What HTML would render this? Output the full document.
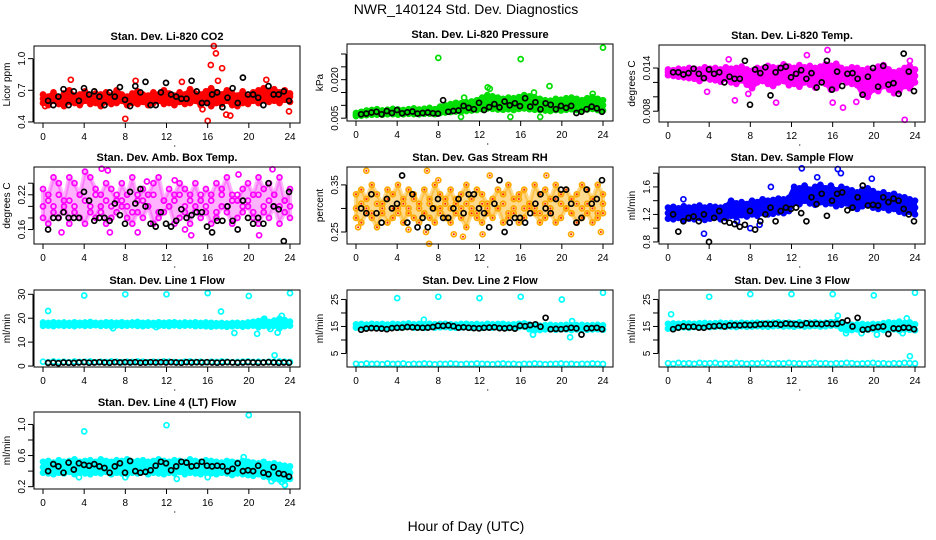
<!DOCTYPE html>
<html><head><meta charset="utf-8">
<style>
html,body{margin:0;padding:0;background:#fff;}
svg{display:block;font-family:"Liberation Sans",Arial,sans-serif;}
</style></head>
<body>
<svg id="chart" width="936" height="540" viewBox="0 0 936 540">
<text x="466" y="14" font-size="14" text-anchor="middle">NWR_140124  Std. Dev. Diagnostics</text>
<text x="466" y="531" font-size="14" text-anchor="middle">Hour of Day (UTC)</text>
</svg>
<script>
const xTicks = [0,4,8,12,16,20,24];

// CO2
const co2Hi = [0.66,0.64,0.68,0.63,0.67,0.70,0.65,0.66,0.69,0.64,0.67,0.66,0.68,0.65,0.70,0.66,0.64,0.67,0.69,0.66,0.65,0.68,0.66,0.70,0.67,0.65,0.68,0.66,0.71,0.67,0.66,0.69,0.72,0.68,0.66,0.70,0.67,0.65,0.69,0.64,0.68,0.70,0.72,0.69,0.71,0.68,0.70,0.67];
const co2Lo = [0.58,0.56,0.60,0.57,0.55,0.59,0.58,0.56,0.60,0.57,0.58,0.55,0.59,0.57,0.58,0.60,0.56,0.58,0.57,0.59,0.56,0.58,0.60,0.57,0.58,0.56,0.59,0.57,0.58,0.60,0.56,0.59,0.55,0.58,0.57,0.60,0.56,0.55,0.58,0.57,0.60,0.58,0.61,0.59,0.60,0.58,0.61,0.59];
const co2Mid = [0.62,0.61,0.63,0.62,0.60,0.64,0.61,0.63,0.62,0.60,0.63,0.61,0.64,0.62,0.61,0.63,0.60,0.62,0.64,0.61,0.62,0.63,0.61,0.64,0.62,0.60,0.63,0.62,0.65,0.61,0.63,0.62,0.64,0.63,0.61,0.65,0.62,0.60,0.63,0.61,0.64,0.65,0.66,0.64,0.65,0.63,0.66,0.64];
const co2OutT = [0.2,2.7,8,9,16,16.3,16.6,16.8,17.4,17,18.2,17.8,21.7,23.9,13.5,15.5];
const co2OutV = [0.55,0.80,0.43,0.79,0.41,0.94,1.12,1.05,0.91,0.79,0.46,0.47,0.80,0.50,0.78,0.52];
const co2Black = [0.60,0.56,0.64,0.71,0.56,0.69,0.60,0.72,0.66,0.69,0.64,0.56,0.68,0.64,0.73,0.61,0.55,0.74,0.68,0.78,0.56,0.56,0.68,0.77,0.66,0.64,0.62,0.62,0.79,0.69,0.58,0.58,0.66,0.68,0.54,0.63,0.72,0.58,0.82,0.66,0.66,0.63,0.56,0.74,0.66,0.66,0.69,0.60];

// Pressure
const presHi = [0.0070,0.0075,0.0080,0.0082,0.0085,0.0080,0.0083,0.0086,0.0084,0.0082,0.0085,0.0088,0.0084,0.0087,0.0090,0.0085,0.0095,0.0100,0.0105,0.0110,0.0108,0.0112,0.0115,0.0120,0.0130,0.0140,0.0135,0.0130,0.0125,0.0130,0.0128,0.0132,0.0140,0.0135,0.0130,0.0125,0.0120,0.0118,0.0125,0.0122,0.0128,0.0130,0.0125,0.0120,0.0128,0.0132,0.0125,0.0120];
const presLo = [0.0058,0.0060,0.0062,0.0063,0.0064,0.0063,0.0065,0.0066,0.0064,0.0065,0.0067,0.0066,0.0065,0.0067,0.0068,0.0066,0.0070,0.0072,0.0074,0.0076,0.0075,0.0078,0.0080,0.0082,0.0085,0.0088,0.0086,0.0084,0.0083,0.0085,0.0082,0.0086,0.0088,0.0085,0.0083,0.0082,0.0080,0.0078,0.0082,0.0080,0.0083,0.0085,0.0082,0.0080,0.0084,0.0086,0.0082,0.0080];
const presMid = [0.0064,0.0068,0.0070,0.0072,0.0074,0.0071,0.0073,0.0076,0.0074,0.0073,0.0076,0.0077,0.0074,0.0077,0.0079,0.0075,0.0082,0.0086,0.0090,0.0093,0.0091,0.0095,0.0098,0.0101,0.0108,0.0114,0.0110,0.0107,0.0104,0.0108,0.0105,0.0109,0.0114,0.0110,0.0106,0.0104,0.0100,0.0098,0.0104,0.0101,0.0106,0.0108,0.0104,0.0100,0.0106,0.0109,0.0104,0.0100];
const presOutT = [8,16,24,18.8,12.8,13,10.5,17.3,23,15,10.2,17.9];
const presOutV = [0.0285,0.0280,0.0325,0.0175,0.0170,0.0165,0.0130,0.0150,0.0145,0.0055,0.0055,0.0055];
const presBlack = [0.0065,0.0068,0.0072,0.0075,0.0065,0.0078,0.0070,0.0082,0.0069,0.0073,0.0076,0.0068,0.0070,0.0072,0.0069,0.0068,0.0120,0.0075,0.0078,0.0080,0.0098,0.0090,0.0085,0.0110,0.0082,0.0093,0.0105,0.0092,0.0115,0.0100,0.0108,0.0097,0.0128,0.0095,0.0112,0.0085,0.0108,0.0102,0.0085,0.0098,0.0090,0.0098,0.0070,0.0075,0.0085,0.0095,0.0088,0.0075];

// Li-820 temp
const tempHi = [0.0138,0.0137,0.0139,0.0138,0.0140,0.0139,0.0138,0.0141,0.0139,0.0140,0.0138,0.0141,0.0139,0.0140,0.0142,0.0138,0.0136,0.0140,0.0139,0.0143,0.0141,0.0140,0.0145,0.0142,0.0140,0.0144,0.0141,0.0143,0.0140,0.0142,0.0145,0.0143,0.0146,0.0140,0.0138,0.0141,0.0140,0.0137,0.0139,0.0136,0.0142,0.0144,0.0138,0.0134,0.0136,0.0140,0.0143,0.0138];
const tempLo = [0.0130,0.0129,0.0128,0.0127,0.0126,0.0125,0.0122,0.0126,0.0124,0.0123,0.0121,0.0125,0.0120,0.0118,0.0123,0.0117,0.0112,0.0120,0.0122,0.0118,0.0115,0.0120,0.0122,0.0116,0.0118,0.0114,0.0120,0.0117,0.0113,0.0122,0.0118,0.0110,0.0112,0.0125,0.0120,0.0118,0.0116,0.0103,0.0100,0.0110,0.0108,0.0115,0.0112,0.0105,0.0108,0.0115,0.0112,0.0120];
const tempMid = [0.0134,0.0133,0.0134,0.0132,0.0133,0.0132,0.0130,0.0134,0.0131,0.0132,0.0129,0.0133,0.0130,0.0128,0.0133,0.0127,0.0124,0.0130,0.0131,0.0130,0.0127,0.0130,0.0134,0.0129,0.0129,0.0128,0.0131,0.0130,0.0126,0.0132,0.0131,0.0126,0.0129,0.0133,0.0129,0.0130,0.0128,0.0120,0.0118,0.0123,0.0126,0.0130,0.0125,0.0120,0.0122,0.0128,0.0128,0.0129];
const tempOutT = [3.8,6.5,10.5,15.5,16,17,23,13.5,7.8,5.9,21.5,18.3,23.5];
const tempOutV = [0.0107,0.0095,0.0092,0.0165,0.0092,0.0085,0.0068,0.0158,0.0104,0.0152,0.0110,0.0093,0.0150];
const tempBlack = [0.0134,0.0134,0.0131,0.0133,0.0139,0.0132,0.0126,0.0138,0.0132,0.0134,0.0120,0.0128,0.0125,0.0125,0.0150,0.0089,0.0138,0.0133,0.0141,0.0102,0.0134,0.0140,0.0142,0.0127,0.0132,0.0137,0.0125,0.0133,0.0113,0.0120,0.0150,0.0110,0.0135,0.0115,0.0132,0.0133,0.0125,0.0103,0.0128,0.0140,0.0114,0.0143,0.0117,0.0119,0.0104,0.0160,0.0135,0.0108];

// Amb box temp
const ambHi = [0.23,0.22,0.25,0.24,0.21,0.25,0.24,0.22,0.26,0.25,0.23,0.22,0.24,0.23,0.21,0.24,0.22,0.25,0.21,0.23,0.22,0.24,0.25,0.21,0.23,0.22,0.24,0.23,0.22,0.24,0.21,0.23,0.22,0.24,0.23,0.25,0.22,0.21,0.23,0.24,0.22,0.25,0.23,0.24,0.22,0.25,0.21,0.23];
const ambLo = [0.18,0.17,0.19,0.18,0.20,0.17,0.19,0.18,0.17,0.19,0.18,0.20,0.17,0.18,0.19,0.20,0.18,0.17,0.19,0.18,0.20,0.17,0.18,0.19,0.20,0.17,0.18,0.19,0.17,0.20,0.18,0.19,0.17,0.18,0.20,0.19,0.17,0.18,0.19,0.20,0.18,0.17,0.19,0.18,0.20,0.17,0.19,0.18];
const ambMid = [0.20,0.21,0.20,0.22,0.19,0.21,0.20,0.22,0.21,0.20,0.22,0.19,0.21,0.20,0.22,0.21,0.20,0.19,0.22,0.21,0.20,0.22,0.19,0.21,0.20,0.21,0.22,0.20,0.21,0.19,0.22,0.20,0.21,0.19,0.22,0.20,0.21,0.22,0.20,0.21,0.19,0.22,0.20,0.21,0.22,0.20,0.21,0.20];
const ambOutT = [5.7,6.3,1.8,6.5,9.2,13.8,14.4,21,22.3,19,10.1,12.8];
const ambOutV = [0.265,0.262,0.155,0.155,0.155,0.160,0.150,0.150,0.264,0.255,0.243,0.245];
const ambBlack = [0.16,0.18,0.18,0.19,0.18,0.18,0.18,0.225,0.21,0.175,0.18,0.18,0.175,0.205,0.185,0.17,0.225,0.205,0.23,0.20,0.17,0.165,0.19,0.17,0.165,0.175,0.195,0.18,0.185,0.19,0.19,0.165,0.155,0.175,0.175,0.20,0.175,0.16,0.21,0.18,0.17,0.18,0.17,0.24,0.20,0.195,0.14,0.225];

// Gas stream RH
const rhHi = [0.33,0.34,0.32,0.35,0.33,0.31,0.34,0.33,0.35,0.32,0.34,0.33,0.31,0.34,0.32,0.35,0.33,0.32,0.34,0.31,0.33,0.35,0.32,0.34,0.33,0.31,0.32,0.34,0.33,0.35,0.32,0.33,0.34,0.31,0.35,0.33,0.34,0.32,0.35,0.33,0.34,0.32,0.33,0.35,0.34,0.32,0.35,0.33];
const rhLo = [0.28,0.27,0.29,0.28,0.26,0.29,0.27,0.28,0.30,0.27,0.29,0.28,0.27,0.29,0.28,0.27,0.30,0.28,0.27,0.29,0.28,0.26,0.29,0.28,0.27,0.29,0.28,0.30,0.27,0.28,0.29,0.27,0.28,0.30,0.29,0.27,0.28,0.29,0.27,0.28,0.30,0.29,0.27,0.28,0.29,0.27,0.28,0.29];
const rhMid = [0.30,0.31,0.30,0.29,0.31,0.30,0.32,0.30,0.29,0.31,0.30,0.32,0.30,0.29,0.31,0.30,0.29,0.31,0.30,0.32,0.30,0.31,0.30,0.29,0.31,0.30,0.32,0.30,0.31,0.29,0.30,0.32,0.30,0.31,0.30,0.29,0.31,0.30,0.32,0.31,0.30,0.29,0.31,0.30,0.31,0.30,0.29,0.31];
const rhOutT = [1,6.9,8,5.1,6.8,9.5,10.4,13,18.5,20.9,23.8,0.2,7.1,12.3];
const rhOutV = [0.38,0.38,0.36,0.255,0.25,0.245,0.24,0.37,0.37,0.245,0.25,0.26,0.225,0.245];
const rhBlack = [0.30,0.29,0.33,0.29,0.27,0.32,0.30,0.31,0.37,0.27,0.33,0.26,0.28,0.26,0.30,0.32,0.28,0.28,0.30,0.32,0.29,0.33,0.33,0.30,0.29,0.26,0.31,0.36,0.25,0.27,0.28,0.28,0.27,0.29,0.31,0.33,0.30,0.29,0.32,0.34,0.34,0.31,0.27,0.28,0.34,0.31,0.32,0.36];

// Sample flow
const flowHi = [1.30,1.31,1.29,1.32,1.30,1.31,1.33,1.30,1.32,1.31,1.30,1.32,1.40,1.36,1.38,1.35,1.40,1.38,1.42,1.40,1.41,1.43,1.42,1.44,1.60,1.58,1.62,1.56,1.60,1.63,1.58,1.62,1.55,1.60,1.57,1.55,1.52,1.56,1.58,1.54,1.50,1.52,1.48,1.50,1.46,1.45,1.42,1.40];
const flowLo = [1.14,1.13,1.15,1.12,1.14,1.13,1.15,1.12,1.14,1.16,1.13,1.15,1.18,1.16,1.19,1.17,1.20,1.18,1.22,1.20,1.21,1.23,1.22,1.25,1.38,1.35,1.40,1.36,1.34,1.38,1.35,1.36,1.32,1.34,1.36,1.30,1.28,1.32,1.34,1.30,1.28,1.30,1.26,1.28,1.24,1.22,1.24,1.20];
const flowMid = [1.22,1.23,1.21,1.24,1.22,1.20,1.23,1.22,1.21,1.24,1.22,1.23,1.30,1.27,1.29,1.26,1.30,1.29,1.32,1.31,1.30,1.33,1.32,1.35,1.48,1.46,1.50,1.45,1.47,1.50,1.46,1.48,1.43,1.47,1.45,1.42,1.40,1.44,1.46,1.42,1.40,1.42,1.37,1.39,1.35,1.33,1.33,1.30];
const flowOutT = [1.5,3.5,6.7,8,7.2,13,16.5,16.8,19.8,8.9,10,14.5];
const flowOutV = [1.42,0.92,1.10,1.00,1.28,1.87,1.86,1.80,1.72,1.05,1.60,1.74];
const flowBlack = [1.20,0.95,1.10,1.15,1.17,1.10,1.20,0.80,1.15,1.25,1.10,1.08,1.06,1.02,1.05,1.25,0.98,1.10,1.20,1.30,1.10,1.25,1.30,1.28,1.30,1.22,1.10,1.45,1.35,1.50,1.18,1.40,1.50,1.52,1.26,1.30,1.45,1.62,1.33,1.34,1.33,1.45,1.38,1.43,1.40,1.28,1.20,1.10];

// Line 1
const l1Hi = [18.2,18.0,18.3,18.1,18.2,18.0,18.3,18.1,18.2,18.4,18.1,18.0,18.3,18.2,18.1,18.3,18.0,18.2,18.4,18.1,18.2,18.0,18.3,18.1,18.2,18.3,18.0,18.2,18.1,18.3,18.0,18.2,18.1,17.9,18.0,17.8,18.0,18.1,17.9,18.2,18.5,18.8,19.5,18.4,19.0,19.8,19.2,18.6];
const l1Lo = [16.8,16.9,16.7,17.0,16.8,16.9,16.7,17.0,16.8,16.9,17.1,16.8,16.9,16.7,17.0,16.8,16.9,17.0,16.8,16.7,16.9,17.0,16.8,16.9,16.7,17.0,16.8,16.9,17.0,16.7,16.8,16.6,16.5,16.7,16.6,16.4,16.6,16.8,16.5,16.7,16.9,16.2,16.8,16.5,16.9,15.8,16.7,16.9];
const l1Base = [1.8,1.6,1.9,1.7,1.8,1.6,1.9,1.7,1.8,1.9,1.6,1.8,1.7,1.9,1.8,1.6,1.8,1.7,1.9,1.8,1.6,1.8,1.7,1.9,1.8,1.7,1.6,1.8,1.9,1.7,1.8,1.6,1.8,1.7,1.9,1.8,1.6,1.7,1.8,1.9,1.7,1.8,1.6,1.8,1.7,1.9,1.8,1.7];
const l1OutT = [0.5,4,8,12,16,17.3,20,24,18.6,20.8,22.8,23.2,22.5,6.8,21.5,11,22.1];
const l1OutV = [23,29.5,30,30,30.5,22.8,29.3,30.5,13.8,13.5,14,21,4.5,15.8,19.8,16.3,15.5];
const l1Black = [1.3,1.4,1.2,1.5,1.4,1.3,1.5,1.6,1.4,1.5,1.6,1.5,1.4,1.6,1.5,1.6,1.5,1.6,1.4,1.5,1.6,1.5,1.6,1.5,1.6,1.5,1.4,1.6,1.5,1.6,1.5,1.6,1.5,1.4,1.5,1.6,1.5,1.4,1.5,1.6,1.5,1.4,1.5,1.6,1.5,1.4,1.5,1.4];

// Line 2
const l2Hi = [15.8,15.9,15.7,16.0,15.8,15.9,15.7,16.0,15.8,15.9,16.1,15.8,15.9,15.7,16.0,15.8,15.9,16.0,15.8,15.7,15.9,16.0,15.8,15.9,15.7,16.0,15.8,15.9,16.0,15.7,15.8,16.0,16.1,15.7,15.4,15.3,15.5,15.6,15.4,15.5,15.6,15.4,15.5,15.6,15.4,15.5,15.6,15.4];
const l2Lo = [14.6,14.7,14.5,14.8,14.6,14.7,14.5,14.8,14.6,14.7,14.9,14.6,14.7,14.5,14.8,14.6,14.7,14.8,14.6,14.5,14.7,14.8,14.6,14.7,14.5,14.8,14.6,14.7,14.8,14.5,14.6,14.8,14.9,14.0,13.6,13.7,13.9,14.0,13.8,14.0,13.9,13.7,13.9,14.0,13.8,13.9,14.0,13.8];
const l2Base = [1.2,1.0,1.3,1.1,1.2,1.0,1.3,1.1,1.2,1.3,1.0,1.2,1.1,1.3,1.2,1.0,1.2,1.1,1.3,1.2,1.0,1.2,1.1,1.3,1.2,1.1,1.0,1.2,1.3,1.1,1.2,1.0,1.2,1.1,1.3,1.2,1.0,1.1,1.2,1.3,1.1,1.2,1.0,1.2,1.1,1.3,1.2,1.1];
const l2OutT = [4,8,12,16,20,24,6.6,17.2,20.8,21,16.4];
const l2OutV = [25.5,26,25.5,26,25,27.5,17.5,12,11,17,16];
const l2Black = [13.8,14.2,14.4,14.3,14.2,14.0,14.4,14.5,14.6,14.8,14.7,14.6,14.5,14.6,14.8,15.3,15.2,15.4,15.1,14.6,14.7,14.5,14.4,14.3,14.5,14.6,14.7,14.4,14.3,14.5,14.2,15.3,15.1,15.5,15.8,14.9,18.2,14.0,14.1,14.0,14.2,14.5,14.3,12.0,14.3,14.4,14.5,14.0];

// Line 3
const l3Hi = [16.0,16.1,16.0,16.2,16.1,16.0,16.2,16.3,16.1,16.2,16.4,16.2,16.3,16.1,16.4,16.2,16.3,16.4,16.2,16.3,16.4,16.5,16.3,16.4,16.2,16.5,16.3,16.4,16.5,16.3,16.4,16.6,16.8,16.0,15.5,15.6,15.8,15.9,15.7,15.9,15.8,16.2,16.5,16.3,16.8,16.2,16.5,15.8];
const l3Lo = [14.2,14.6,14.5,14.7,14.6,14.8,14.7,14.9,14.8,14.9,15.0,14.9,15.0,14.8,15.1,14.9,15.0,15.1,15.0,14.9,15.1,15.2,15.0,15.1,14.9,15.2,15.0,15.1,15.2,15.0,15.1,15.3,15.4,14.2,13.6,13.7,13.9,14.0,13.8,14.0,13.9,13.7,13.9,14.0,13.6,13.9,13.8,13.6];
const l3Base = [1.4,1.2,1.5,1.3,1.4,1.2,1.5,1.3,1.4,1.5,1.2,1.4,1.3,1.5,1.4,1.2,1.4,1.3,1.5,1.4,1.2,1.4,1.3,1.5,1.4,1.3,1.2,1.4,1.5,1.3,1.4,1.2,1.4,1.3,1.5,1.4,1.2,1.3,1.4,1.5,1.3,1.4,1.2,1.4,1.3,1.5,1.4,1.3];
const l3OutT = [4,8,12,16,20,24,23.5,17.3,16.5,20.3,0.3,22.8,18.8,22.5,23.2];
const l3OutV = [26,27,27,27,26.5,27.5,4,12.5,19,12,19.5,12.5,12.5,13.5,18];
const l3Black = [14.0,14.6,15.0,14.8,14.9,14.6,14.5,15.0,15.1,15.3,15.0,15.4,15.5,15.4,15.6,15.5,15.6,15.8,15.9,15.8,16.0,15.7,16.1,15.9,15.8,15.6,16.2,15.9,16.0,15.8,16.1,15.9,16.0,16.5,17.2,15.0,18.2,13.8,14.0,14.5,14.8,15.0,12.2,14.3,14.2,14.6,14.5,14.0];

// Line 4
const l4Hi = [0.52,0.53,0.51,0.54,0.52,0.53,0.55,0.52,0.53,0.54,0.52,0.55,0.53,0.52,0.54,0.53,0.55,0.52,0.53,0.54,0.52,0.53,0.55,0.53,0.52,0.54,0.53,0.52,0.55,0.53,0.52,0.54,0.53,0.52,0.51,0.53,0.52,0.51,0.53,0.52,0.51,0.50,0.52,0.49,0.50,0.48,0.47,0.46];
const l4Lo = [0.38,0.37,0.36,0.38,0.37,0.39,0.36,0.38,0.37,0.36,0.38,0.37,0.39,0.36,0.38,0.37,0.36,0.38,0.37,0.39,0.36,0.38,0.37,0.36,0.38,0.37,0.39,0.36,0.38,0.37,0.36,0.38,0.37,0.36,0.38,0.37,0.35,0.37,0.36,0.35,0.34,0.36,0.33,0.32,0.30,0.29,0.28,0.30];
const l4Mid = [0.45,0.46,0.44,0.45,0.47,0.45,0.46,0.44,0.45,0.47,0.45,0.46,0.44,0.45,0.47,0.46,0.45,0.44,0.46,0.45,0.47,0.45,0.44,0.46,0.45,0.47,0.45,0.44,0.46,0.45,0.44,0.46,0.45,0.44,0.45,0.44,0.43,0.44,0.45,0.43,0.42,0.43,0.41,0.40,0.39,0.38,0.37,0.38];
const l4OutT = [4,12,20,19.5,23.5,23.2,22.2,13,3.5,8,16];
const l4OutV = [0.91,0.99,1.12,0.58,0.22,0.26,0.27,0.30,0.32,0.32,0.32];
const l4Black = [0.40,0.49,0.46,0.38,0.51,0.42,0.50,0.48,0.47,0.49,0.46,0.44,0.38,0.46,0.50,0.38,0.53,0.40,0.38,0.39,0.41,0.47,0.52,0.50,0.41,0.46,0.52,0.51,0.46,0.47,0.52,0.47,0.46,0.47,0.46,0.40,0.43,0.50,0.40,0.41,0.40,0.47,0.38,0.36,0.45,0.37,0.36,0.33];

const panels = [
 {name:'co2', title:'Stan. Dev. Li-820 CO2', ylab:'Licor ppm', x:34, y:46, ylim:[0.39,1.12], ticks:[0.4,0.7,1.0], labels:['0.4','0.7','1.0'], color:'#ff0000', bands:[co2Lo,co2Mid,co2Hi], fills:[[co2Lo,co2Hi]], fo:1, outT:co2OutT, outV:co2OutV, black:co2Black},
 {name:'pressure', title:'Stan. Dev. Li-820 Pressure', ylab:'kPa', x:347, y:44, ylim:[0.0039,0.0339], ticks:[0.005,0.010,0.015,0.020,0.025,0.030], labels:['0.005','','','0.020','',''], color:'#00dd00', bands:[presLo,presMid,presHi], fills:[[presLo,presHi]], fo:1, outT:presOutT, outV:presOutV, black:presBlack},
 {name:'li820-temp', title:'Stan. Dev. Li-820 Temp.', ylab:'degrees C', x:659, y:45, ylim:[0.0065,0.0172], ticks:[0.008,0.010,0.012,0.014], labels:['0.008','','','0.014'], color:'#ff00ff', bands:[tempLo,tempMid,tempHi], fills:[[tempLo,tempHi]], fo:1, outT:tempOutT, outV:tempOutV, black:tempBlack},
 {name:'amb-box-temp', title:'Stan. Dev. Amb. Box Temp.', ylab:'degrees C', x:34, y:167, ylim:[0.135,0.268], ticks:[0.16,0.18,0.20,0.22,0.24], labels:['0.16','','','0.22',''], color:'#ff00ff', bands:[ambLo,ambMid,ambHi], fills:[[ambLo,ambHi]], fo:0.3, outT:ambOutT, outV:ambOutV, black:ambBlack},
 {name:'gas-stream-rh', title:'Stan. Dev. Gas Stream RH', ylab:'percent', x:347, y:167, ylim:[0.2245,0.388], ticks:[0.25,0.30,0.35], labels:['0.25','','0.35'], color:'#ffaa00', dot:'#ff2000', bands:[rhLo,rhMid,rhHi], fills:[[rhLo,rhHi]], fo:0.45, outT:rhOutT, outV:rhOutV, black:rhBlack},
 {name:'sample-flow', title:'Stan. Dev. Sample Flow', ylab:'ml/min', x:659, y:167, ylim:[0.77,1.89], ticks:[0.8,1.0,1.2,1.4,1.6,1.8], labels:['0.8','','1.2','','1.6',''], color:'#0000ff', bands:[flowLo,flowMid,flowHi], fills:[[flowLo,flowHi]], fo:1, outT:flowOutT, outV:flowOutV, black:flowBlack},
 {name:'line1-flow', title:'Stan. Dev. Line 1 Flow', ylab:'ml/min', x:34, y:290, ylim:[-0.4,31.8], ticks:[0,10,20,30], labels:['0','10','20','30'], color:'#00ffff', bands:[l1Base,l1Lo,l1Hi], fills:[[l1Lo,l1Hi]], fo:1, outT:l1OutT, outV:l1OutV, black:l1Black},
 {name:'line2-flow', title:'Stan. Dev. Line 2 Flow', ylab:'ml/min', x:347, y:290, ylim:[0.0,28.5], ticks:[5,10,15,20,25], labels:['5','','15','','25'], color:'#00ffff', bands:[l2Base,l2Lo,l2Hi], fills:[[l2Lo,l2Hi]], fo:1, outT:l2OutT, outV:l2OutV, black:l2Black},
 {name:'line3-flow', title:'Stan. Dev. Line 3 Flow', ylab:'ml/min', x:659, y:290, ylim:[0.0,28.5], ticks:[5,10,15,20,25], labels:['5','','15','','25'], color:'#00ffff', bands:[l3Base,l3Lo,l3Hi], fills:[[l3Lo,l3Hi]], fo:1, outT:l3OutT, outV:l3OutV, black:l3Black},
 {name:'line4-flow', title:'Stan. Dev. Line 4 (LT) Flow', ylab:'ml/min', x:34, y:412, ylim:[0.17,1.16], ticks:[0.2,0.4,0.6,0.8,1.0], labels:['0.2','','0.6','','1.0'], color:'#00ffff', bands:[l4Lo,l4Mid,l4Hi], fills:[[l4Lo,l4Hi]], fo:1, outT:l4OutT, outV:l4OutV, black:l4Black}
];

const NS = 'http://www.w3.org/2000/svg';
const svg = document.getElementById('chart');
const W = 266, H = 77;
function mk(tag, attrs, parent){ const e=document.createElementNS(NS,tag); for(const k in attrs) e.setAttribute(k,attrs[k]); parent.appendChild(e); return e; }

panels.forEach(p => {
  const g = mk('g', {}, svg);
  
  
  const xs = t => p.x + 9 + t * (247/24);
  const ys = v => p.y + H - (v - p.ylim[0]) / (p.ylim[1] - p.ylim[0]) * H;
  const t1 = mk('text', {x:p.x+W/2, y:p.y-6, 'font-size':11, 'font-weight':'bold', 'text-anchor':'middle'}, g);
  t1.textContent = p.title;
  
  
  const yt = mk('text', {x:0, y:0, 'font-size':10, 'text-anchor':'middle', transform:`translate(${p.x-24},${p.y+H/2}) rotate(-90)`}, g);
  yt.textContent = p.ylab;
  
  
  p.fills.forEach(([lo, hi]) => {
    const n = lo.length;
    const pts = [];
    hi.forEach((v,i) => pts.push(xs(i*24/(n-1)).toFixed(1) + ',' + ys(v).toFixed(1)));
    for (let i = n-1; i >= 0; i--) pts.push(xs(i*24/(n-1)).toFixed(1) + ',' + ys(lo[i]).toFixed(1));
    const poly = mk('polygon', {points:pts.join(' '), fill:p.color, 'fill-opacity':p.fo, stroke:p.color, 'stroke-opacity':p.fo, 'stroke-width':4, 'stroke-linejoin':'round'}, g);
    
    
  });
  const pg = mk('g', {}, g);
  
  
  const dot = (t, v, col, cls) => {
    const colored = col !== '#000';
    const c = mk('circle', {cx:xs(t).toFixed(1), cy:ys(v).toFixed(1), r:2.5, fill:'none', stroke:col, 'stroke-width':1.7}, pg);
    
    
    if (p.dot && colored) {
      const d = mk('circle', {cx:xs(t).toFixed(1), cy:ys(v).toFixed(1), r:1, fill:p.dot}, pg);
      
      
    }
  };
  p.bands.forEach(arr => arr.forEach((v,i) => dot(i*24/(arr.length-1), v, p.color, 'point')));
  p.outT.forEach((t,i) => dot(t, p.outV[i], p.color, 'outlier-point'));
  p.black.forEach((v,i) => dot(0.5 + i*(23.4/(p.black.length-1)), v, '#000', 'hourly-point'));
  const box = mk('rect', {x:p.x, y:p.y, width:W, height:H, fill:'none', stroke:'#000', 'stroke-width':1}, g);
  
  
  mk('line', {x1:xs(0), x2:xs(24), y1:p.y+H, y2:p.y+H, stroke:'#000'}, g);
  xTicks.forEach(t => {
    mk('line', {x1:xs(t), x2:xs(t), y1:p.y+H, y2:p.y+H+5, stroke:'#000'}, g);
    const tx = mk('text', {x:xs(t), y:p.y+H+17, 'font-size':10, 'text-anchor':'middle'}, g);
    tx.textContent = t;
    
    
  });
  mk('circle', {cx:xs(12.8), cy:p.y+H+23, r:0.6, fill:'#000'}, g);
  mk('line', {x1:p.x-1, x2:p.x-1, y1:ys(p.ticks[0]), y2:ys(p.ticks[p.ticks.length-1]), stroke:'#000'}, g);
  p.ticks.forEach((v,i) => {
    const y = ys(v);
    mk('line', {x1:p.x-6, x2:p.x-1, y1:y, y2:y, stroke:'#000'}, g);
    if (p.labels[i]) {
      const ty = mk('text', {x:0, y:0, 'font-size':10, 'text-anchor':'middle', transform:`translate(${p.x-9},${y}) rotate(-90)`}, g);
      ty.textContent = p.labels[i];
      
      
    }
  });
});
</script>
</body></html>
